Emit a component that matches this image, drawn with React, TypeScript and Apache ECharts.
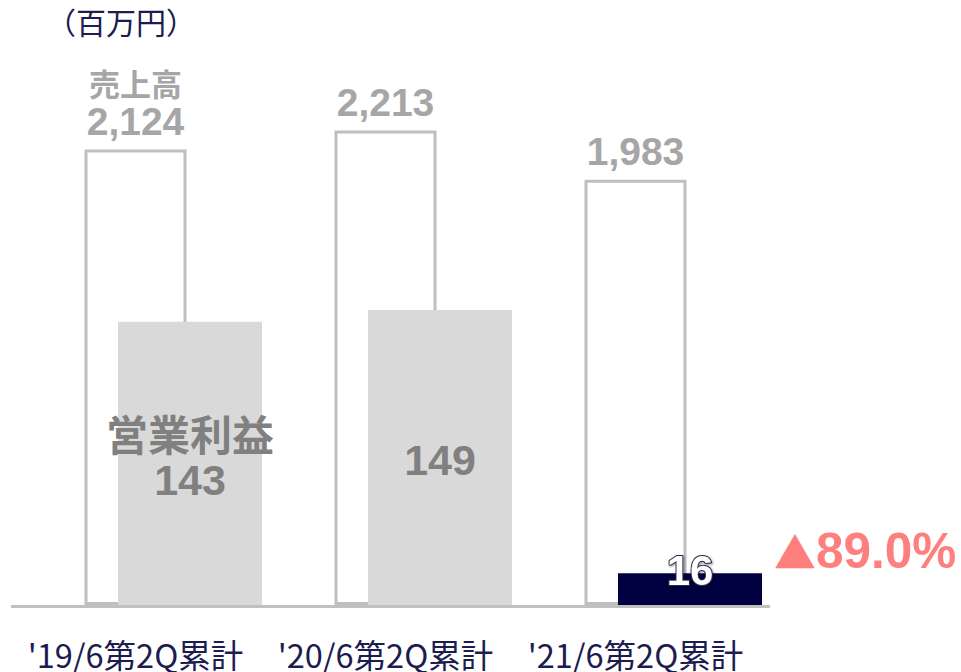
import React, { useEffect, useRef } from "react";
import * as echarts from "echarts";

const categories = ["'19/6第2Q累計", "'20/6第2Q累計", "'21/6第2Q累計"];
const revenue = [2124, 2213, 1983];
const profit = [143, 149, 16];
const profitColors = ["#d9d9d9", "#d9d9d9", "#000040"];
const unitLabel = "（百万円）";
const changeMark = "▲";
const changeValue = "89.0%";

const NUM_FONT = "'Liberation Sans', Arial, 'Noto Sans CJK JP', sans-serif";
const JP_FONT = "'Noto Sans CJK JP', sans-serif";

export default function App() {
  const ref = useRef<HTMLDivElement>(null);
  useEffect(() => {
    if (!ref.current) return;
    const chart = echarts.init(ref.current, undefined, { renderer: "svg" });
    const fmt = (v: number) => v.toLocaleString("en-US");
    chart.setOption({
      animation: false,
      grid: [
        { left: 10.5, width: 750, top: 65, bottom: 67 },
        { left: 65, width: 750, top: 65, bottom: 67 },
      ],
      xAxis: [
        {
          type: "category",
          gridIndex: 0,
          data: categories,
          axisLine: { show: false },
          axisTick: { show: false },
          axisLabel: {
            interval: 0,
            hideOverlap: false,
            margin: 33,
            lineHeight: 30,
            color: "#1c1c50",
            fontSize: 32.5,
            fontFamily: JP_FONT,
          },
        },
        {
          type: "category",
          gridIndex: 1,
          data: categories,
          show: false,
        },
      ],
      yAxis: [
        { type: "value", gridIndex: 0, min: 0, max: 2518, show: false },
        { type: "value", gridIndex: 1, min: 0, max: 272.7, show: false },
      ],
      series: [
        {
          type: "bar",
          xAxisIndex: 0,
          yAxisIndex: 0,
          barWidth: 102,
          z: 2,
          itemStyle: { color: "#ffffff", borderColor: "#bfbfbf", borderWidth: 3 },
          data: revenue.map((v, i) => ({
            value: v,
            label: {
              show: true,
              position: "top",
              distance: 8,
              formatter: i === 0 ? `{a|売上高}\n{b|${fmt(v)}}` : `{b|${fmt(v)}}`,
              rich: {
                a: { fontSize: 31, fontWeight: "bold", color: "#a6a6a6", fontFamily: JP_FONT, lineHeight: 38 },
                b: { fontSize: 39, fontWeight: "bold", color: "#a6a6a6", fontFamily: NUM_FONT, lineHeight: 40 },
              },
            },
          })),
        },
        {
          type: "bar",
          xAxisIndex: 1,
          yAxisIndex: 1,
          barWidth: 144,
          z: 3,
          data: profit.map((v, i) => ({
            value: v,
            itemStyle: { color: profitColors[i] },
            label:
              i === 2
                ? {
                    show: true,
                    position: "top",
                    distance: -18,
                    formatter: `${v}`,
                    fontSize: 42,
                    fontWeight: "bold",
                    fontFamily: NUM_FONT,
                    color: "#ffffff",
                    textBorderColor: "#2a2a4a",
                    textBorderWidth: 2,
                    textShadowColor: "rgba(0,0,0,0.4)",
                    textShadowBlur: 2,
                    textShadowOffsetX: 1,
                    textShadowOffsetY: 1,
                  }
                : {
                    show: true,
                    position: "inside",
                    offset: i === 0 ? [0, -7] : [0, 3],
                    formatter: i === 0 ? `{a|営業利益}\n{b|${v}}` : `{b|${v}}`,
                    rich: {
                      a: { fontSize: 42, fontWeight: "bold", color: "#808080", fontFamily: JP_FONT, lineHeight: 48 },
                      b: { fontSize: 43, fontWeight: "bold", color: "#808080", fontFamily: NUM_FONT, lineHeight: 48 },
                    },
                  },
          })),
        },
      ],
      graphic: [
        {
          type: "line",
          shape: { x1: 11, y1: 606.5, x2: 770, y2: 606.5 },
          style: { stroke: "#c0c0c0", lineWidth: 3 },
          z: 10,
        },
        {
          type: "text",
          left: 46,
          top: 6,
          style: { text: unitLabel, fill: "#1c1c50", fontSize: 30, fontFamily: JP_FONT },
        },
        {
          type: "text",
          left: 774,
          top: 526,
          style: {
            text: `{t|${changeMark}}{n|${changeValue}}`,
            rich: {
              t: { fill: "#ff7f7f", fontSize: 42, fontFamily: JP_FONT, lineHeight: 54 },
              n: { fill: "#ff7f7f", fontSize: 49.5, fontWeight: "bold", fontFamily: NUM_FONT, lineHeight: 54 },
            },
          },
        },
      ],
    });
    return () => chart.dispose();
  }, []);
  return <div ref={ref} style={{ width: 961, height: 672, position: "absolute", left: 0, top: 0 }} />;
}
